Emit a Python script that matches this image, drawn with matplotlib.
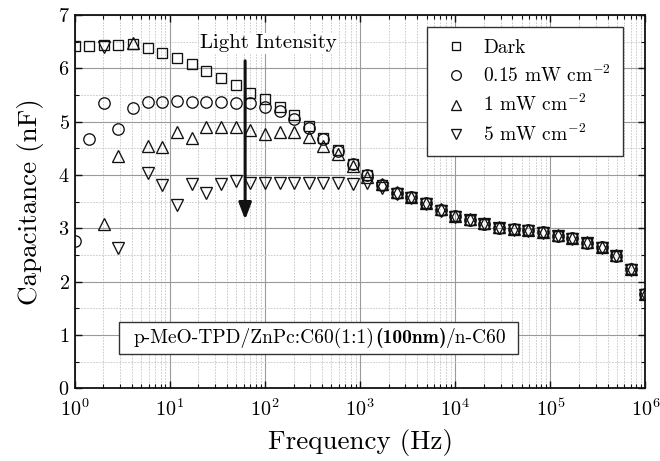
import matplotlib
matplotlib.use('Agg')
import matplotlib.pyplot as plt
from matplotlib.patches import Rectangle
from matplotlib.ticker import LogLocator, MultipleLocator, NullFormatter
import numpy as np

plt.rcParams['font.family'] = 'serif'
plt.rcParams['font.serif'] = ['cmr10', 'DejaVu Serif']
plt.rcParams['mathtext.fontset'] = 'cm'
plt.rcParams['axes.unicode_minus'] = False
plt.rcParams['axes.formatter.use_mathtext'] = True

# measurement frequencies (Hz), 6.5 points per decade
freq = [1, 1.425, 2.031, 2.894, 4.125, 5.878, 8.377, 11.94, 17.01, 24.24,
        34.55, 49.24, 70.17, 100, 142.5, 203.1, 289.4, 412.5, 587.8, 837.7,
        1194, 1701, 2424, 3455, 4924, 7017, 10000, 14250, 20310, 28940,
        41250, 58780, 83770, 119400, 170100, 242400, 345500, 492400, 701700, 1000000]

# capacitance (nF)
c_dark = [6.42, 6.42, 6.44, 6.43, 6.45, 6.38, 6.28, 6.19, 6.08, 5.94,
          5.81, 5.69, 5.54, 5.42, 5.28, 5.13, 4.92, 4.69, 4.46, 4.21,
          4.00, 3.81, 3.67, 3.58, 3.47, 3.35, 3.22, 3.16, 3.08, 3.01,
          2.98, 2.96, 2.92, 2.86, 2.81, 2.73, 2.64, 2.48, 2.23, 1.76]
c_015 = [2.76, 4.68, 5.34, 4.86, 5.25, 5.36, 5.37, 5.39, 5.37, 5.37,
         5.36, 5.34, 5.34, 5.27, 5.19, 5.04, 4.88, 4.67, 4.44, 4.21,
         4.00, 3.81, 3.67, 3.58, 3.47, 3.35, 3.22, 3.16, 3.08, 3.01,
         2.98, 2.96, 2.92, 2.86, 2.81, 2.73, 2.64, 2.48, 2.23, 1.76]
c_1 = [np.nan, np.nan, 3.08, 4.35, 6.47, 4.54, 4.52, 4.80, 4.70, 4.89,
       4.89, 4.89, 4.84, 4.77, 4.81, 4.81, 4.71, 4.54, 4.39, 4.17,
       3.97, 3.83, 3.68, 3.59, 3.48, 3.36, 3.23, 3.17, 3.09, 3.02,
       2.99, 2.97, 2.93, 2.87, 2.82, 2.74, 2.65, 2.49, 2.24, 1.77]
c_5 = [np.nan, np.nan, 6.40, 2.63, np.nan, 4.03, 3.81, 3.44, 3.83, 3.66,
       3.83, 3.89, 3.84, 3.84, 3.84, 3.84, 3.84, 3.84, 3.84, 3.83,
       3.84, 3.76, 3.64, 3.56, 3.45, 3.33, 3.21, 3.15, 3.07, 3.00,
       2.97, 2.95, 2.91, 2.85, 2.80, 2.72, 2.63, 2.47, 2.22, 1.75]

labels = ['Dark', r'0.15 mW cm$^{-2}$', r'1 mW cm$^{-2}$', r'5 mW cm$^{-2}$']

fig = plt.figure(figsize=(6.6, 4.61), dpi=100)
ax = fig.add_axes([0.113, 0.158, 0.865, 0.8095])

mk = dict(linestyle='none', markerfacecolor='none', markeredgecolor='#111111',
          markeredgewidth=0.95)
ax.plot(freq, c_dark, marker='s', markersize=7.2, label=labels[0], **mk)
ax.plot(freq, c_015, marker='o', markersize=8.2, label=labels[1], **mk)
ax.plot(freq, c_1, marker='^', markersize=8.7, label=labels[2], **mk)
ax.plot(freq, c_5, marker='v', markersize=8.7, label=labels[3], **mk)

ax.set_xscale('log')
ax.set_xlim(1, 1e6)
ax.set_ylim(0, 7)
ax.set_xticks([1, 1e1, 1e2, 1e3, 1e4, 1e5, 1e6])
ax.xaxis.set_minor_locator(LogLocator(base=10, subs=np.arange(2, 10), numticks=20))
ax.xaxis.set_minor_formatter(NullFormatter())
ax.yaxis.set_major_locator(MultipleLocator(1))
ax.yaxis.set_minor_locator(MultipleLocator(0.5))

ax.grid(which='major', color='#9a9a9a', linestyle='-', linewidth=0.8)
ax.grid(which='minor', color='#c4c4c4', linestyle='--', linewidth=0.6, dashes=(2, 1.5))
ax.set_axisbelow(True)

ax.tick_params(which='both', direction='in', top=True, right=True, labelsize=14.5,
               color='#111111')
ax.tick_params(which='major', length=5, width=1)
ax.tick_params(which='minor', length=3, width=0.8)
ax.tick_params(axis='x', pad=7)
for s in ax.spines.values():
    s.set_linewidth(1.3)
    s.set_color('#111111')

ax.set_xlabel('Frequency (Hz)', fontsize=19.5, labelpad=7)
ax.set_ylabel('Capacitance (nF)', fontsize=19.5, labelpad=10)

leg = ax.legend(loc='upper right', bbox_to_anchor=(0.96, 0.968), borderaxespad=0,
                fontsize=14, fancybox=False, framealpha=1, edgecolor='#333333',
                handletextpad=0.5, labelspacing=0.42, borderpad=0.6, markerscale=0.85,
                handlelength=1.8)
leg.get_frame().set_linewidth(1.0)

ax.text(110, 6.47, 'Light Intensity', fontsize=15, ha='center', va='center',
        bbox=dict(facecolor='white', edgecolor='none', pad=1))
ax.annotate('', xy=(62, 3.16), xytext=(62, 6.14),
            arrowprops=dict(arrowstyle='-|>,head_length=1.0,head_width=0.38',
                            color='#111111', lw=2.2, shrinkA=0, shrinkB=0))

# device structure label in a framed box, thickness in bold
ax.add_patch(Rectangle((0.078, 0.091), 0.698, 0.085, transform=ax.transAxes,
                       facecolor='white', edgecolor='#333333', linewidth=1.0, zorder=4))
t1 = ax.text(0.104, 0.12, 'p-MeO-TPD/ZnPc:C60(1:1)', transform=ax.transAxes,
             fontsize=14, ha='left', va='baseline', zorder=5)
t2 = ax.annotate('(100nm)', xy=(1, 0), xycoords=t1, fontsize=14, family='cmb10',
                 ha='left', va='bottom', zorder=5)
t3 = ax.annotate('/n-C60', xy=(1, 0), xycoords=t2, fontsize=14,
                 ha='left', va='bottom', zorder=5)

fig.savefig('out.png', dpi=100, facecolor='white')
